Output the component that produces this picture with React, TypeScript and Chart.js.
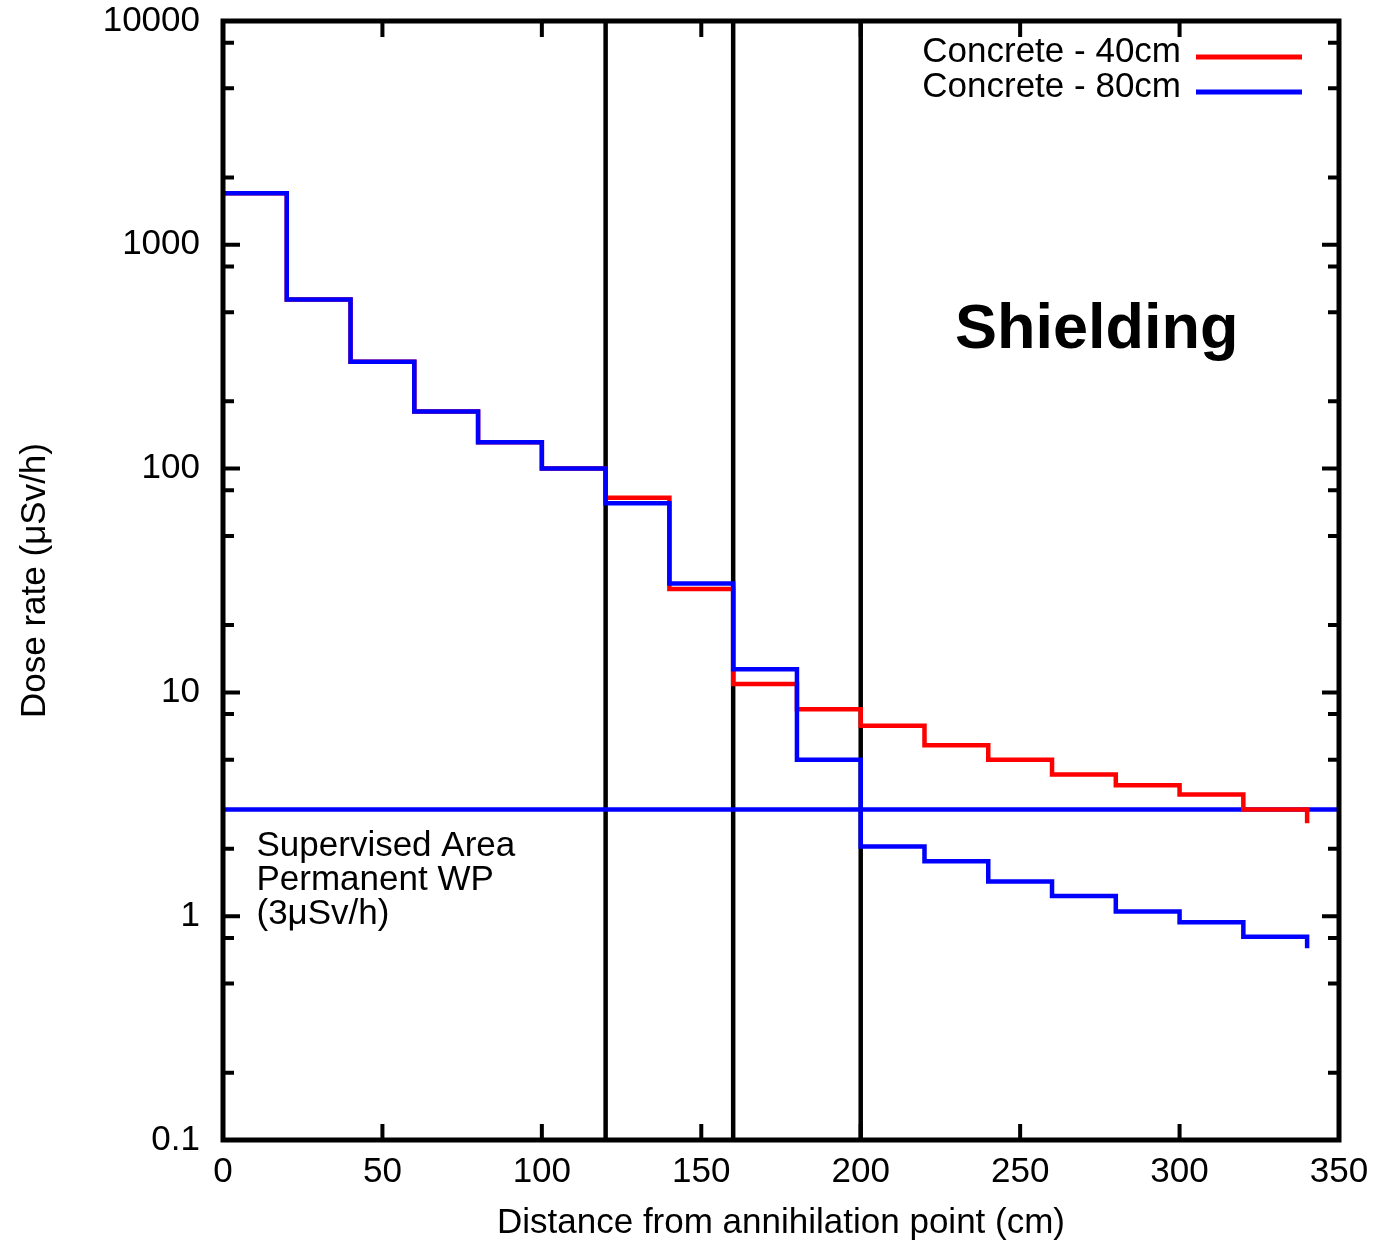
import React, { useEffect, useRef } from 'react';
import { Chart, registerables } from 'chart.js';

Chart.register(...registerables);

// ---- Data ----
const distances = [0, 20, 40, 60, 80, 100, 120, 140, 160, 180, 200, 220, 240, 260, 280, 300, 320, 340];
const concrete40 = [1700, 570, 300, 180, 131, 100, 74, 29, 10.9, 8.4, 7.1, 5.8, 5.0, 4.3, 3.85, 3.5, 3.0, 2.6];
const concrete80 = [1700, 570, 300, 180, 131, 100, 70, 30.7, 12.7, 5.0, 2.05, 1.76, 1.43, 1.23, 1.05, 0.94, 0.81, 0.72];
const seriesLabels = ['Concrete - 40cm', 'Concrete - 80cm'];
const wallPositions = [120, 160, 200];
const limitDose = 3;
const limitLabel = ['Supervised Area', 'Permanent WP', '(3\u03bcSv/h)'];
const xTicks = [0, 50, 100, 150, 200, 250, 300, 350];
const yTicks = [0.1, 1, 10, 100, 1000, 10000];
const yTickLabels = ['0.1', '1', '10', '100', '1000', '10000'];
const yMinorFactors = [2, 5, 8];
const xTitle = 'Distance from annihilation point (cm)';
const yTitle = 'Dose rate (\u03bcSv/h)';
const panelTitle = 'Shielding';

const RED = '#ff0000';
const BLUE = '#0000ff';
const FONT = "'Liberation Sans', Arial, sans-serif";

const framePlugin = {
  id: 'gnuplotFrame',
  afterDatasetsDraw(chart: any) {
    const { ctx, chartArea, scales } = chart;
    const { left, right, top, bottom } = chartArea;
    const x = scales.x;
    const y = scales.y;
    ctx.save();
    ctx.strokeStyle = '#000';
    ctx.lineWidth = 5;
    ctx.lineCap = 'butt';
    ctx.strokeRect(left, top, right - left, bottom - top);

    // y ticks (major + minor), inward on left and right
    const yMin = yTicks[0];
    const yMax = yTicks[yTicks.length - 1];
    const drawY = (v: number, len: number) => {
      const py = y.getPixelForValue(v);
      ctx.beginPath();
      ctx.moveTo(left, py);
      ctx.lineTo(left + len, py);
      ctx.moveTo(right, py);
      ctx.lineTo(right - len, py);
      ctx.stroke();
    };
    ctx.lineWidth = 4;
    yTicks.forEach((v) => drawY(v, 17));
    yTicks.forEach((v) => {
      yMinorFactors.forEach((f) => {
        const mv = v * f;
        if (mv > yMin && mv < yMax) drawY(mv, 11);
      });
    });
    // x ticks inward on bottom and top
    xTicks.forEach((v) => {
      const px = x.getPixelForValue(v);
      ctx.beginPath();
      ctx.moveTo(px, bottom);
      ctx.lineTo(px, bottom - 16);
      ctx.moveTo(px, top);
      ctx.lineTo(px, top + 16);
      ctx.stroke();
    });

    // legend (text right-aligned, sample line to the right)
    const colors = [RED, BLUE];
    ctx.font = `35px ${FONT}`;
    ctx.fillStyle = '#000';
    ctx.textAlign = 'right';
    ctx.textBaseline = 'alphabetic';
    seriesLabels.forEach((lab, i) => {
      const ty = top + 41 + i * 35;
      ctx.fillText(lab, right - 158, ty);
      ctx.strokeStyle = colors[i];
      ctx.lineWidth = 5;
      ctx.beginPath();
      ctx.moveTo(right - 143, top + 36 + i * 35);
      ctx.lineTo(right - 37, top + 36 + i * 35);
      ctx.stroke();
    });

    // panel title
    ctx.fillStyle = '#000';
    ctx.textAlign = 'left';
    ctx.font = `bold 63px ${FONT}`;
    ctx.fillText(panelTitle, left + 732, top + 327);

    // limit annotation
    ctx.font = `35px ${FONT}`;
    const ly = y.getPixelForValue(limitDose);
    limitLabel.forEach((line, i) => {
      ctx.fillText(line, x.getPixelForValue(10.5), ly + 47 + i * 34);
    });
    ctx.restore();
  },
};

export default function App() {
  const canvasRef = useRef<HTMLCanvasElement | null>(null);

  useEffect(() => {
    const canvas = canvasRef.current;
    if (!canvas) return;

    const wallSets = wallPositions.map((w) => ({
      label: 'wall',
      data: [
        { x: w, y: yTicks[0] },
        { x: w, y: yTicks[yTicks.length - 1] },
      ],
      borderColor: '#000',
      borderWidth: 4.5,
      pointRadius: 0,
      order: 4,
    }));

    const chart = new Chart(canvas, {
      type: 'line',
      data: {
        datasets: [
          ...wallSets,
          {
            label: 'limit',
            data: [
              { x: xTicks[0], y: limitDose },
              { x: xTicks[xTicks.length - 1], y: limitDose },
            ],
            borderColor: BLUE,
            borderWidth: 4.5,
            pointRadius: 0,
            order: 3,
          },
          {
            label: seriesLabels[0],
            data: distances.map((d, i) => ({ x: d, y: concrete40[i] })),
            borderColor: RED,
            borderWidth: 4.5,
            pointRadius: 0,
            stepped: 'before',
            order: 2,
          },
          {
            label: seriesLabels[1],
            data: distances.map((d, i) => ({ x: d, y: concrete80[i] })),
            borderColor: BLUE,
            borderWidth: 4.5,
            pointRadius: 0,
            stepped: 'before',
            order: 1,
          },
        ] as any,
      },
      options: {
        responsive: false,
        animation: false,
        events: [],
        layout: { padding: { left: 0, top: 21, right: 44, bottom: 0 } },
        plugins: {
          legend: { display: false },
          tooltip: { enabled: false },
        },
        scales: {
          x: {
            type: 'linear',
            min: xTicks[0],
            max: xTicks[xTicks.length - 1],
            grid: { display: false, drawTicks: false },
            border: { display: false },
            afterBuildTicks: (scale: any) => {
              scale.ticks = xTicks.map((v) => ({ value: v }));
            },
            afterFit: (scale: any) => {
              scale.height = 106;
              scale.paddingLeft = 0;
              scale.paddingRight = 0;
            },
            ticks: {
              autoSkip: false,
              maxRotation: 0,
              padding: 11,
              color: '#000',
              font: { family: FONT, size: 35 },
              callback: (v: any) => String(v),
            },
            title: {
              display: true,
              text: xTitle,
              color: '#000',
              font: { family: FONT, size: 35 },
              padding: { top: 0, bottom: 2 },
            },
          },
          y: {
            type: 'logarithmic',
            min: yTicks[0],
            max: yTicks[yTicks.length - 1],
            grid: { display: false, drawTicks: false },
            border: { display: false },
            afterBuildTicks: (scale: any) => {
              scale.ticks = yTicks.map((v) => ({ value: v }));
            },
            afterFit: (scale: any) => {
              scale.width = 223;
              scale.paddingTop = 0;
              scale.paddingBottom = 0;
            },
            ticks: {
              autoSkip: false,
              padding: 23,
              color: '#000',
              font: { family: FONT, size: 35 },
              callback: (_v: any, i: number) => yTickLabels[i],
            },
            title: {
              display: true,
              text: yTitle,
              color: '#000',
              font: { family: FONT, size: 35 },
              padding: { top: 14, bottom: 0 },
            },
          },
        },
      },
      plugins: [framePlugin],
    } as any);

    return () => chart.destroy();
  }, []);

  return (
    <div style={{ position: 'absolute', left: 0, top: 0, width: 1383, height: 1246, background: '#fff' }}>
      <canvas ref={canvasRef} width={1383} height={1246} />
    </div>
  );
}
